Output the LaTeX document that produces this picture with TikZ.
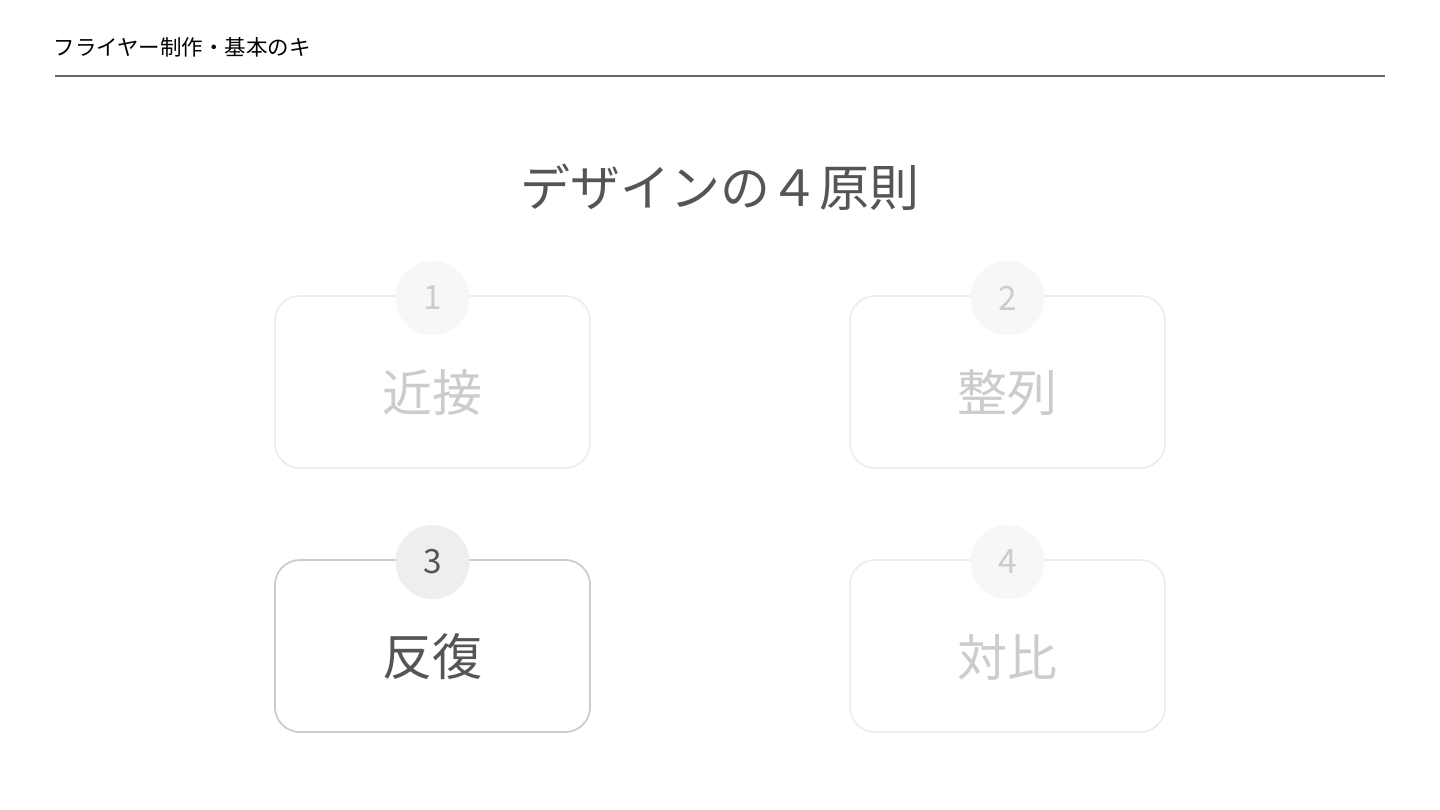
\documentclass[tikz,border=0pt]{standalone}
\usepackage{fontspec}
\setmainfont{Noto Sans CJK JP}
\usetikzlibrary{positioning}
\definecolor{ink}{HTML}{555555}
\definecolor{rule}{HTML}{666666}
\definecolor{faint}{HTML}{CCCCCC}
\definecolor{faintline}{HTML}{EDEDED}
\definecolor{faintfill}{HTML}{F7F7F7}
\definecolor{activefill}{HTML}{EEEEEE}
\tikzset{
  card/.style={draw=faintline,line width=0.5pt,rounded corners=0.25cm,
    minimum width=3.15cm,minimum height=1.72cm,inner sep=0pt},
  activecard/.style={card,draw=faint},
  numdot/.style={circle,fill=faintfill,minimum size=0.74cm,inner sep=0pt,
    text=faint,font=\fontsize{9.5}{11}\selectfont},
  activedot/.style={numdot,fill=activefill,text=ink},
  cardtext/.style={text=faint,font=\fontsize{14.2}{17}\selectfont},
  activetext/.style={cardtext,text=ink}
}
\begin{document}
\begin{tikzpicture}[x=0.01cm,y=-0.01cm]
\useasboundingbox[fill=white] (0,0) rectangle (1440,810);
% header
\node[anchor=west,inner sep=0pt,font=\fontsize{6.1}{7}\selectfont] (head) at (53,47) {フライヤー制作・基本のキ};
\coordinate (ruleL) at (55,76);
\coordinate (ruleR) at (1385,76);
\draw[rule,line width=0.55pt] (ruleL) -- (ruleR);
\node[text=ink,font=\fontsize{14.2}{17}\selectfont] (title) at (720,187) {デザインの４原則};
% cards
\node[card] (card1) at (432.5,382) {};
\node[card] (card2) at (1007.5,382) {};
\node[activecard] (card3) at (432.5,646) {};
\node[card] (card4) at (1007.5,646) {};
\node[numdot] (n1) at ([yshift=-0.03cm]card1.north) {1};
\node[numdot] (n2) at ([yshift=-0.03cm]card2.north) {2};
\node[activedot] (n3) at ([yshift=-0.03cm]card3.north) {3};
\node[numdot] (n4) at ([yshift=-0.03cm]card4.north) {4};
\node[cardtext] (t1) at ([yshift=-0.11cm]card1.center) {近接};
\node[cardtext] (t2) at ([yshift=-0.11cm]card2.center) {整列};
\node[activetext] (t3) at ([yshift=-0.11cm]card3.center) {反復};
\node[cardtext] (t4) at ([yshift=-0.11cm]card4.center) {対比};
\end{tikzpicture}
\end{document}
